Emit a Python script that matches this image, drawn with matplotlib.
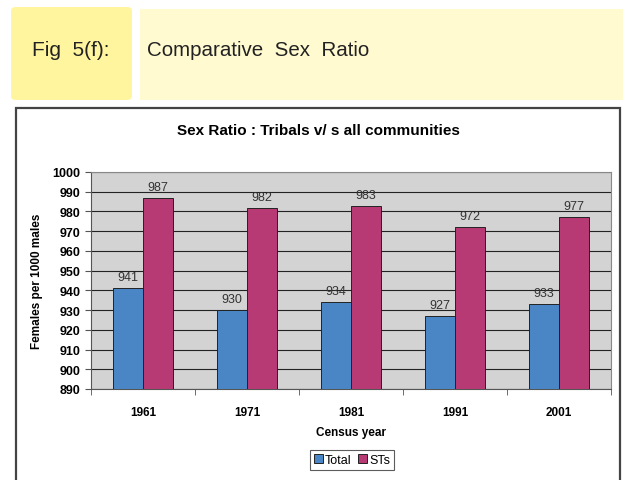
import matplotlib
matplotlib.use("Agg")
import matplotlib.pyplot as plt
import numpy as np
from matplotlib.patches import Rectangle, FancyBboxPatch

plt.rcParams['font.family'] = ['Liberation Sans', 'DejaVu Sans']

# --- data ---
years = ['1961', '1971', '1981', '1991', '2001']
total = [941, 930, 934, 927, 933]
sts = [987, 982, 983, 972, 977]

W, H = 623, 481
fig = plt.figure(figsize=(W / 100, H / 100), dpi=100)


def fx(px):
    return px / W


def fy(py):
    return 1 - py / H


# --- header boxes ---
fig.patches.append(FancyBboxPatch((fx(11), fy(101)), fx(121), 93 / H,
                                  boxstyle="round,pad=0,rounding_size=0.008",
                                  transform=fig.transFigure, facecolor='#fff59f',
                                  edgecolor='none', zorder=0))
fig.patches.append(Rectangle((fx(140), fy(101)), fx(W - 140), 91 / H,
                             transform=fig.transFigure, facecolor='#fffad0',
                             edgecolor='none', zorder=0))
fig.text(fx(32), fy(50), 'Fig  5(f):', fontsize=15, color='#222222', va='center')
fig.text(fx(147), fy(50), 'Comparative  Sex  Ratio', fontsize=14.8, color='#222222',
         va='center')

# --- chart frame ---
fig.patches.append(Rectangle((fx(16), fy(H + 5)), fx(620 - 16), (H + 5 - 109) / H,
                             transform=fig.transFigure, facecolor='white',
                             edgecolor='#444444', linewidth=1.6, zorder=0))

# --- plot area ---
ax = fig.add_axes([fx(91), fy(390), fx(611 - 91), (390 - 173) / H])
ax.set_zorder(3)
ax.set_facecolor('#d3d3d3')

x = np.arange(len(years))
bw = 0.29
b1 = ax.bar(x - bw / 2, total, bw, color='#4a86c5', edgecolor='#222222',
            linewidth=0.7, label='Total', zorder=3)
b2 = ax.bar(x + bw / 2, sts, bw, color='#b83a74', edgecolor='#222222',
            linewidth=0.7, label='STs', zorder=3)
for bars in (b1, b2):
    for r in bars:
        ax.text(r.get_x() + r.get_width() / 2, r.get_height() + 2.5,
                f'{int(r.get_height())}', ha='center', va='bottom',
                fontsize=9, color='#333333')

ax.set_ylim(890, 1000)
ax.set_yticks(np.arange(890, 1001, 10))
ax.set_xlim(-0.5, len(years) - 0.5)
ax.set_xticks(x)
ax.set_xticklabels(years, fontweight='bold', fontsize=8.5)
ax.set_xticks(np.arange(-0.5, len(years), 1), minor=True)
ax.tick_params(axis='x', which='major', length=0, pad=12)
ax.tick_params(axis='x', which='minor', length=4, color='#555555')
ax.tick_params(axis='y', length=4, labelsize=9, color='#555555')
for lab in ax.get_yticklabels():
    lab.set_fontweight('bold')
ax.yaxis.grid(True, color='#222222', linewidth=0.8, zorder=0)
ax.set_axisbelow(True)
for s in ['top', 'right']:
    ax.spines[s].set_color('#888888')
for s in ['left', 'bottom']:
    ax.spines[s].set_color('#555555')

ax.set_ylabel('Females per 1000 males', fontsize=8.5, fontweight='bold', labelpad=7)
ax.set_xlabel('Census year', fontsize=8.5, fontweight='bold', labelpad=6)
fig.text(fx(318), fy(131), 'Sex Ratio : Tribals v/ s all communities',
         fontsize=11, fontweight='bold', ha='center', va='center')

leg = fig.legend(handles=[b1, b2], loc='center', bbox_to_anchor=(fx(352), fy(461)),
                 ncol=2, frameon=True, fancybox=False, edgecolor='#333333',
                 fontsize=9, handlelength=0.7, handleheight=0.7, handletextpad=0.2,
                 columnspacing=0.5, borderpad=0.3)
leg.get_frame().set_linewidth(0.8)
leg.set_zorder(4)

fig.savefig('out.png', dpi=100)
